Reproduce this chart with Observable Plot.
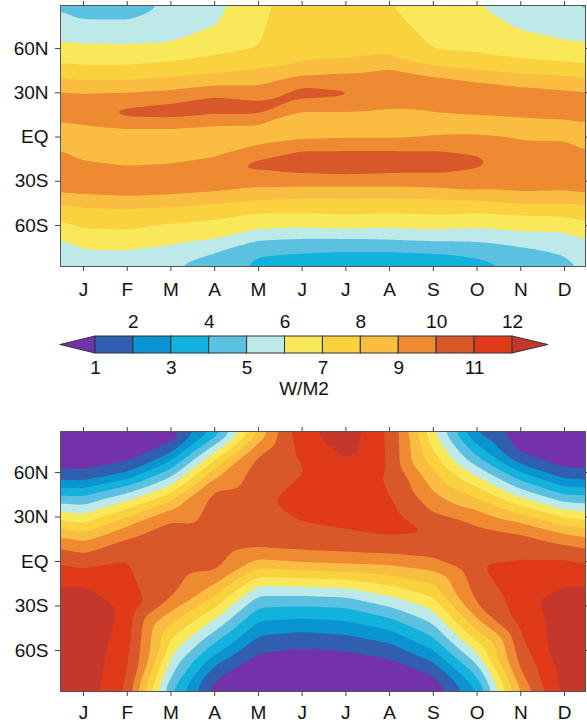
<!DOCTYPE html>
<html>
<head>
<meta charset="utf-8">
<script src="https://cdn.jsdelivr.net/npm/d3@7"></script>
<script src="https://cdn.jsdelivr.net/npm/@observablehq/plot@0.6"></script>
<style>
  html, body { margin: 0; padding: 0; background: #fff; }
  #chart { width: 587px; }
  #chart svg { display: block; }
</style>
</head>
<body>
<div id="chart"></div>
<script>
// ---------- axis labels / levels ----------
const months = ["J", "F", "M", "A", "M", "J", "J", "A", "S", "O", "N", "D"];
const monthIdx = [1, 2, 3, 4, 5, 6, 7, 8, 9, 10, 11, 12];
const latTicks = [60, 30, 0, -30, -60];
const latLabels = ["60N", "30N", "EQ", "30S", "60S"];
const levels = [1, 2, 3, 4, 5, 6, 7, 8, 9, 10, 11, 12];
const levelColors = ["#7132ab", "#2f5fae", "#0a94d0", "#12b2dc", "#5cc0e0", "#bde9e9",
                     "#f9e85a", "#f9d23e", "#f9bd42", "#ee8a32", "#d9582a", "#df3a1a", "#c5372a"];
const unitLabel = "W/M2";

// ---------- upper panel: [latitude, W/M2] read per month ----------
const upperJan = [[90,4.3],[85,4.55],[80.5,5],[63.4,6],[48.4,7],[38,8],[30,9],[18,9.85],[9.5,9],[-3,8.5],[-16.4,9],[-28,9.6],[-40,9],[-47,8],[-62,7],[-75.5,6],[-90,5.3]];
const upperFeb = [[90,4.4],[85,4.55],[80.2,5],[62.7,6],[48.4,7],[38.6,8],[30.2,9],[20.4,10],[15.8,10.3],[11.3,10],[8.1,9],[-5,8.5],[-20.4,9],[-30,9.6],[-41.4,9],[-47.7,8],[-63,7],[-76.6,6],[-90,5.3]];
const upperMar = [[90,5.2],[85,5.3],[80,5.55],[63.6,6],[51.3,7],[40.4,8],[31.8,9],[23.4,10],[17,10.4],[11.3,10],[8.1,9],[-5,8.5],[-18.6,9],[-29,9.6],[-40.2,9],[-47,8],[-58.4,7],[-73.2,6],[-88,5],[-90,4.9]];
const upperApr = [[90,5.6],[74.5,6],[55.2,7],[43.2,8],[34.7,9],[27.9,10],[21,10.45],[14.3,10],[9.7,9],[-3,8.5],[-14.1,9],[-26,9.7],[-38,9],[-44.8,8],[-56.1,7],[-69.8,6],[-77.7,5],[-90,4.5]];
const upperMay = [[90,6.8],[60.4,7],[46.1,8],[34.7,9],[24.5,10],[19.5,10.5],[14.7,10],[9.7,9],[1,8.6],[-6.1,9],[-15.2,10],[-18.6,10.45],[-22,10],[-34.5,9],[-42.5,8],[-51.6,7],[-63,6],[-69.8,5],[-80,4],[-90,3.7]];
const upperJun = [[90,7.4],[49.5,8],[41.6,9],[34.8,10],[30,10.4],[25.8,10],[15.4,9],[13,8],[10,7.8],[7,8],[-1.6,9],[-8.4,10],[-17,10.5],[-25.5,10],[-33.4,9],[-41.4,8],[-51.6,7],[-61.8,6],[-68.6,5],[-77.7,4],[-90,3.5]];
const upperJul = [[90,7.4],[50.6,8],[43.8,9],[33.1,10],[30,10.2],[26.8,10],[15.4,9],[12.5,8],[10,7.85],[7,8],[-0.4,9],[-8.4,10],[-17,10.5],[-26.6,10],[-33.4,9],[-41.4,8],[-52.7,7],[-63,6],[-68.6,5],[-76.6,4],[-90,3.4]];
const upperAug = [[90,7.0],[54,8],[47.7,9],[30,9.7],[17.7,9],[12.5,8],[10,7.9],[7,8],[-0.4,9],[-8.4,10],[-17,10.5],[-25.5,10],[-33.4,9],[-41.4,8],[-51.6,7],[-61.8,6],[-69.8,5],[-76.6,4],[-90,3.3]];
const upperSep = [[90,6.5],[58,7],[47.3,8],[42.7,9],[30,9.6],[16.6,9],[8,8.5],[0.7,9],[-8.4,10],[-17,10.4],[-25.5,10],[-34.5,9],[-41.4,8],[-52.7,7],[-63,6],[-70.9,5],[-77.7,4],[-90,3.4]];
const upperOct = [[90,6.0],[56.3,7],[45,8],[38.2,9],[28,9.6],[14.3,9],[8,8.5],[1.8,9],[-11.8,10],[-17,10.2],[-22,10],[-36.8,9],[-42.5,8],[-51.6,7],[-61.8,6],[-70.9,5],[-81.1,4],[-90,3.7]];
const upperNov = [[90,5.4],[72.3,6],[52.9,7],[42.7,8],[34.7,9],[25,9.6],[13.1,9],[6,8.6],[-1.6,9],[-20,9.6],[-39,9],[-44.8,8],[-52.7,7],[-64.1,6],[-74.3,5],[-90,4.0]];
const upperDec = [[90,5.1],[65.5,6],[50.6,7],[41.6,8],[32.5,9],[22,9.6],[12,9],[5,8.6],[-2,9],[-20,9.6],[-38,9],[-44.8,8],[-53.9,7],[-64.1,6],[-80,5],[-90,4.8]];

// ---------- lower panel: [latitude, W/M2] read per month ----------
const lowerJan = [[90,0],[60,1],[54.5,2],[49.5,3],[44,4],[38,5],[32,6],[25.5,7],[19.5,8],[14,9],[5.5,10],[-4.5,11],[-17.5,12],[-25,12.6],[-45,13],[-90,12.6]];
const lowerFeb = [[90,0],[65.5,1],[60.5,2],[55.5,3],[51,4],[46,5],[41,6],[35.5,7],[30,8],[24,9],[16,10],[1,11],[-30,11.7],[-80,11],[-90,10.7]];
const lowerMar = [[90,0],[79,1],[73.5,2],[68,3],[62.5,4],[57,5],[51.5,6],[46,7],[40.5,8],[35,9],[29,10],[0,10.7],[-25.7,10],[-33.6,9],[-42.5,8],[-52.7,7],[-63.9,6],[-77.4,5],[-88.6,4],[-90,3.9]];
const lowerApr = [[90,2.9],[87.8,3],[83.3,4],[78.8,5],[73.7,6],[68.7,7],[62.4,8],[56.4,9],[49.6,10],[15,10.8],[-7.7,10],[-15.6,9],[-23.4,8],[-31.3,7],[-39.2,6],[-47,5],[-54.9,4],[-62.8,3],[-70.6,2],[-78.5,1],[-90,0.5]];
const lowerMay = [[90,7.8],[87,8],[80.5,9],[73,10],[40,10.9],[8,10],[1.5,9],[-4.5,8],[-10,7],[-16,6],[-23,5],[-31,4],[-40,3],[-50,2],[-60.5,1],[-90,0]];
const lowerJun = [[90,11.7],[75,11.3],[64,10.95],[40,11.2],[25,11],[7,10],[-1,9],[-6,8],[-11,7],[-17,6],[-23,5],[-30,4],[-38.5,3],[-47.5,2],[-57,1],[-90,0]];
const lowerJul = [[90,12.9],[80,12.5],[70,12],[50,11.4],[20,11],[6,10],[-2,9],[-7,8],[-12,7],[-18,6],[-24,5],[-31,4],[-40,3],[-49.5,2],[-59,1],[-90,0]];
const lowerAug = [[90,10.8],[60,10.9],[47,11],[30,11.3],[16,11],[5,10],[-2.5,9],[-9.5,8],[-16,7],[-23.5,6],[-30.5,5],[-38,4],[-46,3],[-55,2],[-64,1],[-90,0]];
const lowerSep = [[90,5.7],[88,6],[75.5,7],[62,8],[47.4,9],[32.8,10],[24,10.95],[19,11.05],[13,10.95],[2.5,10],[-6.5,9],[-15,8],[-24,7],[-33,6],[-42,5],[-51,4],[-59.5,3],[-68,2],[-76,1],[-90,0]];
const lowerOct = [[90,1.3],[85.6,2],[78.8,3],[71,4],[64.2,5],[57.5,6],[50.7,7],[42.9,8],[35,9],[24.9,10],[0,10.95],[-30,10],[-38.5,9],[-46.5,8],[-54,7],[-61.5,6],[-69,5],[-77.5,4],[-86,3],[-90,2.8]];
const lowerNov = [[90,0],[71.4,1],[65.8,2],[60.2,3],[54.6,4],[48.9,5],[43.3,6],[37.7,7],[32.1,8],[26.5,9],[19.3,10],[2,11],[-20,11.6],[-43.7,11.2],[-75,10],[-88,9],[-90,8.9]];
const lowerDec = [[90,0],[61.5,1],[56,2],[50.5,3],[45,4],[40,5],[35,6],[29.5,7],[24.5,8],[19,9],[11.5,10],[2,11],[-16.7,12],[-35,12.6],[-70,12.5],[-90,12.2]];

// ---------- build tables (annual cycle: Dec repeated before Jan, Jan after Dec) ----------
function toRows(cols) {
  const cyc = [cols[cols.length - 1], ...cols, cols[0]];
  return cyc.flatMap((col, i) => col.map(([lat, v]) => ({month: i, lat, v})));
}
const upperRows = toRows([upperJan, upperFeb, upperMar, upperApr, upperMay, upperJun, upperJul, upperAug, upperSep, upperOct, upperNov, upperDec]);
const lowerRows = toRows([lowerJan, lowerFeb, lowerMar, lowerApr, lowerMay, lowerJun, lowerJul, lowerAug, lowerSep, lowerOct, lowerNov, lowerDec]);

const FONT = "'Liberation Sans', Arial, Helvetica, sans-serif";
const colorScale = {type: "threshold", domain: levels, range: levelColors};

function panel(rows, {height, mt, mb, ydom, pad}) {
  return Plot.plot({
    width: 587, height, marginLeft: 60, marginRight: 2, marginTop: mt, marginBottom: mb,
    style: {fontFamily: FONT, fontSize: "19px", color: "#111", background: "transparent", overflow: "visible"},
    x: {domain: [0.474, 12.48]},
    y: {domain: ydom},
    color: colorScale,
    marks: [
      Plot.frame({fill: levelColors[0]}),
      Plot.contour(rows, {x: "month", y: "lat", value: "v", fill: "value",
        thresholds: [-100, ...levels], interpolate: "barycentric", blur: 2}),
      Plot.frame({stroke: "#555"}),
      Plot.axisY(latTicks, {anchor: "left", tickSize: 5, tickPadding: 7, label: null, stroke: "#444",
        tickFormat: d => latLabels[latTicks.indexOf(d)]}),
      Plot.axisY(latTicks, {anchor: "right", tickSize: 5, label: null, stroke: "#444", tickFormat: () => ""}),
      Plot.axisX(monthIdx, {anchor: "bottom", tickSize: 5, tickPadding: pad, label: null, stroke: "#444",
        tickFormat: d => months[d - 1]}),
      Plot.axisX(monthIdx, {anchor: "top", tickSize: 5, label: null, stroke: "#444", tickFormat: () => ""})
    ]
  });
}

// ---------- colorbar ----------
const boxLevels = levels.slice(0, 11);              // 1..11 -> boxes [k, k+1]
const evenLabels = levels.filter(d => d % 2 === 0);
const oddLabels = levels.filter(d => d % 2 === 1);
const leftTri = [{x: 0.08, y1: 0.5, y2: 0.5}, {x: 1, y1: 0, y2: 1}];
const rightTri = [{x: 12, y1: 0, y2: 1}, {x: 12.95, y1: 0.5, y2: 0.5}];

const colorbar = Plot.plot({
  width: 587, height: 110, marginLeft: 0, marginRight: 0, marginTop: 36, marginBottom: 57,
  style: {fontFamily: FONT, fontSize: "19px", color: "#111", background: "transparent", overflow: "visible"},
  x: {domain: [-1.506, 13.98], axis: null},
  y: {domain: [0, 1], axis: null},
  color: colorScale,
  marks: [
    Plot.areaY(leftTri, {x: "x", y1: "y1", y2: "y2", fill: levelColors[0], stroke: "#333", strokeWidth: 1}),
    Plot.areaY(rightTri, {x: "x", y1: "y1", y2: "y2", fill: levelColors[12], stroke: "#333", strokeWidth: 1}),
    Plot.rect(boxLevels, {x1: d => d, x2: d => d + 1, y1: 0, y2: 1, fill: d => d, stroke: "#333", strokeWidth: 1}),
    Plot.text(evenLabels, {x: d => d, y: 1, dy: -14.5, text: d => String(d)}),
    Plot.text(oddLabels, {x: d => d, y: 0, dy: 14, text: d => String(d)}),
    Plot.text([unitLabel], {x: 6.5, y: 0, dy: 35.5, text: d => d})
  ]
});

const chart = document.getElementById("chart");
chart.append(panel(upperRows, {height: 300, mt: 5, mb: 34, ydom: [-87.8, 89.2], pad: 11}));
chart.append(colorbar);
chart.append(panel(lowerRows, {height: 316, mt: 21, mb: 35, ydom: [-87.7, 87.7], pad: 9}));
</script>
</body>
</html>
